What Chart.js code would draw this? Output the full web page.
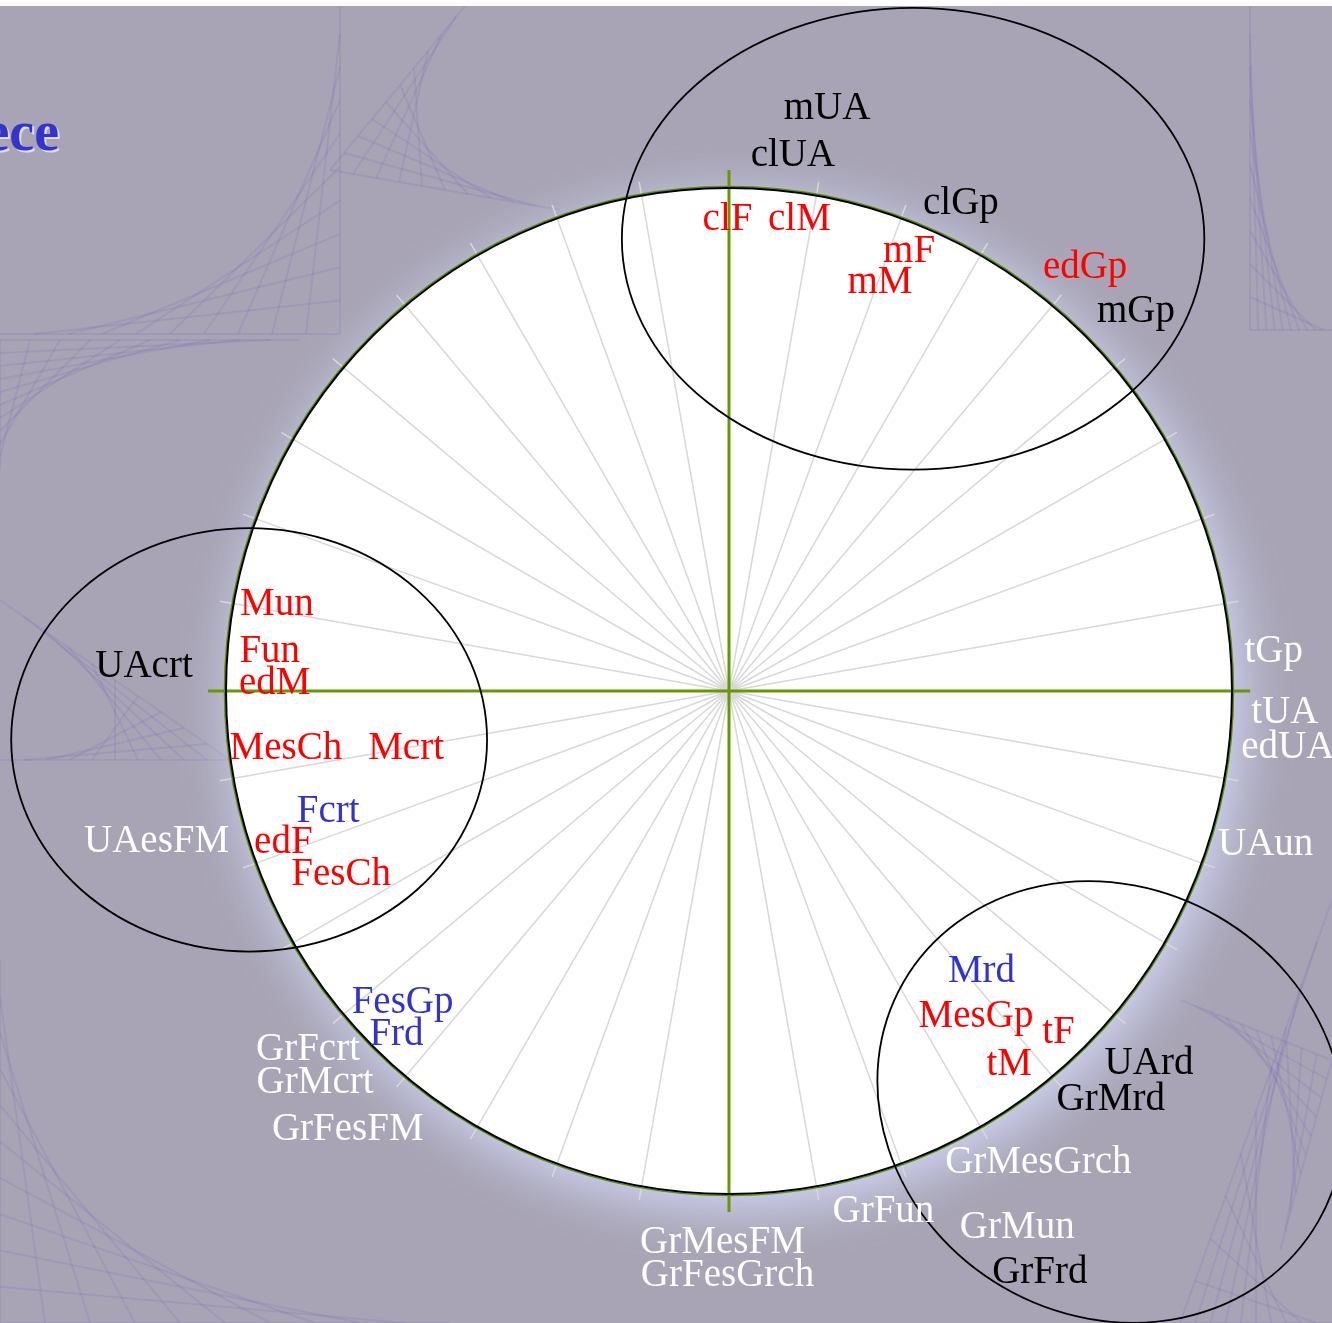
<!DOCTYPE html>
<html>
<head>
<meta charset="utf-8">
<title>Set wheel</title>
<style>
    html, body {
        margin: 0;
        padding: 0;
        background-color: #a8a4b5;
    }
    .chart-container {
        position: relative;
        width: 1332px;
        height: 1323px;
    }
</style>
<script src="https://cdn.jsdelivr.net/npm/chart.js@4.4.1/dist/chart.umd.min.js"></script>
</head>
<body>
<div class="chart-container">
    <canvas id="wheel"></canvas>
</div>
<script>
// Label positions are in chart units: the white disc has radius 100, centred on 0,0.
const blackLabels = ['mUA', 'clUA', 'clGp', 'mGp', 'UAcrt', 'UArd', 'GrMrd', 'GrFrd'];
const blackX = [19.5, 12.7, 46.1, 80.9, -116.3, 83.5, 75.9, 61.8];
const blackY = [113.7, 104.4, 94.8, 73.4, 2.8, -76.1, -83.3, -117.7];

const redLabels = ['clF', 'clM', 'mF', 'mM', 'edGp', 'Mun', 'Fun', 'edM', 'MesCh', 'Mcrt', 'edF', 'FesCh', 'MesGp', 'tF', 'tM'];
const redX = [-0.3, 14.0, 35.8, 30.0, 70.8, -89.9, -91.3, -90.3, -88.1, -64.2, -88.6, -77.1, 49.1, 65.5, 55.7];
const redY = [91.7, 91.7, 85.3, 79.1, 82.1, 15.1, 5.8, -0.6, -13.5, -13.5, -32.2, -38.6, -66.8, -70.0, -76.3];

const blueLabels = ['Fcrt', 'FesGp', 'Frd', 'Mrd'];
const blueX = [-79.7, -64.9, -66.1, 50.2];
const blueY = [-26.0, -64.0, -70.4, -57.9];

const whiteLabels = ['tGp', 'tUA', 'edUA', 'UAun', 'UAesFM', 'GrFcrt', 'GrMcrt', 'GrFesFM', 'GrMesGrch', 'GrFun', 'GrMun', 'GrMesFM', 'GrFesGrch'];
const whiteX = [108.3, 110.5, 111.1, 106.7, -113.8, -83.7, -82.3, -75.8, 61.5, 30.7, 57.3, -1.3, -0.3];
const whiteY = [5.8, -6.4, -13.3, -32.6, -32.0, -73.4, -79.9, -89.3, -95.8, -105.6, -108.7, -111.7, -118.3];

// the three outlined sets: centre, half-width, half-height, tilt (degrees)
const setCx = [36.6, -95.4, 75.9];
const setCy = [89.9, -9.7, -81.7];
const setRx = [57.9, 47.3, 47.6];
const setRy = [45.9, 42.1, 42.6];
const setTilt = [0, 0, 30];

const DISC_R = 100;
const SPOKE_COUNT = 36;
const SPOKE_REACH = 102.8;
const AXIS_REACH = 103.6;

const spokePoints = [];
for (let k = 0; k < SPOKE_COUNT; k++) {
    const a = k * 2 * Math.PI / SPOKE_COUNT;
    spokePoints.push({x: 0, y: 0});
    spokePoints.push({x: SPOKE_REACH * Math.cos(a), y: SPOKE_REACH * Math.sin(a)});
    spokePoints.push({x: 0, y: null});
}
const axisPoints = [
    {x: -AXIS_REACH, y: 0}, {x: AXIS_REACH, y: 0}, {x: 0, y: null},
    {x: 0, y: AXIS_REACH}, {x: 0, y: -AXIS_REACH}
];

function labelSet(texts, xs, ys, ink) {
    return {
        data: texts.map((t, i) => ({x: xs[i], y: ys[i]})),
        texts: texts,
        ink: ink,
        showLine: false,
        pointRadius: 0,
        pointHoverRadius: 0
    };
}

// faint string-art patterns of the slide background (pixel space, decoration only)
const stitches = [
    [340, 0, 340, 334, 0, 334],
    [0, 470, 0, 340, 300, 340],
    [470, 0, 330, 170, 560, 210],
    [1250, 0, 1250, 330, 1332, 330],
    [0, 600, 230, 760, 0, 760],
    [0, 960, 0, 1323, 450, 1323],
    [1332, 900, 1180, 1323, 1332, 1323],
    [1180, 1000, 1332, 1060, 1280, 1250]
];

const wheelPlugin = {
    id: 'wheel',
    beforeDatasetsDraw(chart) {
        const {ctx, width, height} = chart;
        const xs = chart.scales.x, ys = chart.scales.y;
        ctx.save();
        ctx.fillStyle = '#a8a4b5';
        ctx.fillRect(0, 0, width, height);

        ctx.strokeStyle = 'rgba(98, 78, 190, 0.12)';
        ctx.lineWidth = 2;
        stitches.forEach(s => {
            const n = 10;
            for (let i = 0; i <= n; i++) {
                const t = i / n;
                ctx.beginPath();
                ctx.moveTo(s[0] + (s[2] - s[0]) * t, s[1] + (s[3] - s[1]) * t);
                ctx.lineTo(s[2] + (s[4] - s[2]) * t, s[3] + (s[5] - s[3]) * t);
                ctx.stroke();
            }
        });

        ctx.fillStyle = '#ffffff';
        ctx.fillRect(0, 0, width, 6);

        // fragment of the slide title, cut by the left edge
        ctx.font = 'bold 56px "Liberation Serif", serif';
        ctx.textAlign = 'right';
        ctx.textBaseline = 'alphabetic';
        ctx.fillStyle = 'rgba(225, 225, 235, 0.9)';
        ctx.fillText('ece', 61, 152);
        ctx.fillStyle = '#3434cc';
        ctx.fillText('ece', 59, 150);

        const cx = xs.getPixelForValue(0), cy = ys.getPixelForValue(0);
        const r = xs.getPixelForValue(DISC_R) - cx;
        ctx.shadowColor = 'rgba(215, 222, 255, 0.95)';
        ctx.shadowBlur = 55;
        ctx.shadowOffsetX = 8;
        ctx.shadowOffsetY = 12;
        ctx.beginPath();
        ctx.arc(cx, cy, r, 0, Math.PI * 2);
        ctx.fillStyle = '#ffffff';
        ctx.fill();
        ctx.restore();
    },
    afterDatasetsDraw(chart) {
        const {ctx} = chart;
        const xs = chart.scales.x, ys = chart.scales.y;
        const cx = xs.getPixelForValue(0), cy = ys.getPixelForValue(0);
        const r = xs.getPixelForValue(DISC_R) - cx;
        ctx.save();
        ctx.beginPath();
        ctx.arc(cx, cy, r + 1.5, 0, Math.PI * 2);
        ctx.strokeStyle = '#5f8f00';
        ctx.lineWidth = 1.5;
        ctx.stroke();
        ctx.beginPath();
        ctx.arc(cx, cy, r, 0, Math.PI * 2);
        ctx.strokeStyle = '#000000';
        ctx.lineWidth = 2;
        ctx.stroke();

        // set outlines
        ctx.strokeStyle = '#000000';
        ctx.lineWidth = 1.8;
        setCx.forEach((v, i) => {
            const px = xs.getPixelForValue(v);
            const py = ys.getPixelForValue(setCy[i]);
            const rx = xs.getPixelForValue(v + setRx[i]) - px;
            const ry = py - ys.getPixelForValue(setCy[i] + setRy[i]);
            ctx.beginPath();
            ctx.ellipse(px, py, rx, ry, setTilt[i] * Math.PI / 180, 0, Math.PI * 2);
            ctx.stroke();
        });

        // labels
        ctx.font = '39px "Liberation Serif", "DejaVu Serif", serif';
        ctx.textAlign = 'center';
        ctx.textBaseline = 'alphabetic';
        chart.data.datasets.forEach((ds, i) => {
            if (!ds.texts) return;
            const meta = chart.getDatasetMeta(i);
            ctx.fillStyle = ds.ink;
            meta.data.forEach((pt, j) => {
                ctx.fillText(ds.texts[j], pt.x, pt.y);
            });
        });
        ctx.restore();
    }
};

new Chart(document.getElementById('wheel'), {
    type: 'scatter',
    data: {
        datasets: [
            labelSet(blackLabels, blackX, blackY, '#000000'),
            labelSet(redLabels, redX, redY, '#ff0000'),
            labelSet(blueLabels, blueX, blueY, '#3333cc'),
            labelSet(whiteLabels, whiteX, whiteY, '#ffffff'),
            {
                data: axisPoints,
                showLine: true,
                borderColor: '#669900',
                borderWidth: 3,
                pointRadius: 0,
                order: 1
            },
            {
                data: spokePoints,
                showLine: true,
                borderColor: '#d8d8d8',
                borderWidth: 1.5,
                pointRadius: 0,
                order: 2
            }
        ]
    },
    options: {
        responsive: true,
        maintainAspectRatio: false,
        animation: false,
        events: [],
        layout: {padding: 0},
        plugins: {
            legend: {display: false},
            tooltip: {enabled: false}
        },
        scales: {
            x: {type: 'linear', display: false, min: -144.93, max: 119.88},
            y: {type: 'linear', display: false, min: -125.65, max: 137.38}
        }
    },
    plugins: [wheelPlugin]
});
</script>
</body>
</html>
